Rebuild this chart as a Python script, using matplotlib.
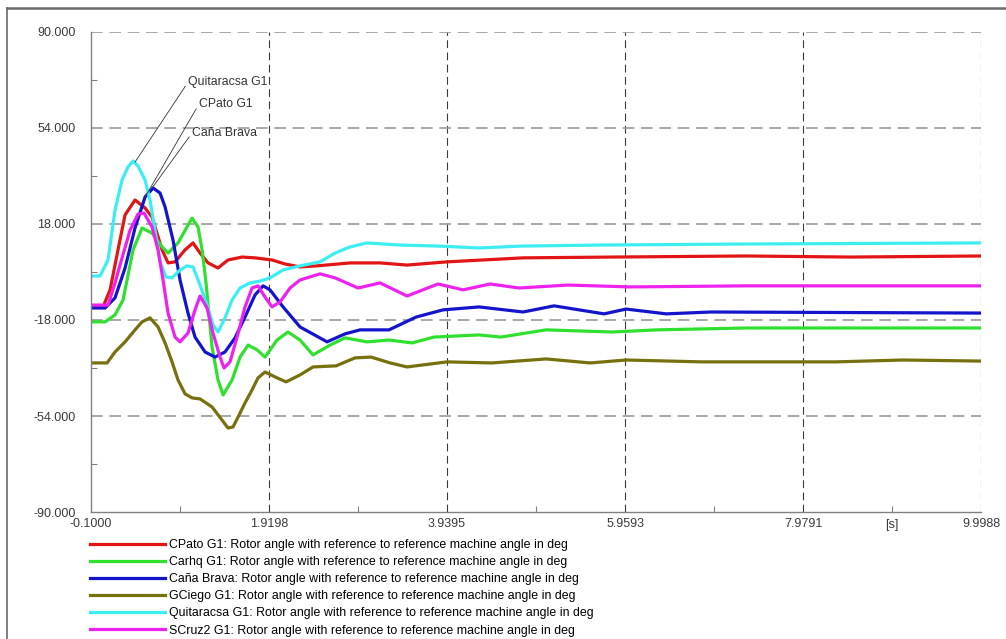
import numpy as np
import matplotlib
matplotlib.use("Agg")
import matplotlib.pyplot as plt
from matplotlib.lines import Line2D

plt.rcParams['font.family'] = ['Liberation Sans', 'DejaVu Sans']

# time in s, rotor angle in deg
t_cpato = [-0.1, 0.036, 0.116, 0.206, 0.286, 0.399, 0.513, 0.592, 0.706, 0.774, 0.853, 0.967,
           1.057, 1.137, 1.228, 1.341, 1.454, 1.613, 1.761, 1.954, 2.101, 2.271, 2.464, 2.839,
           3.179, 3.486, 3.940, 4.802, 5.812, 7.332, 8.512, 10.0]
y_cpato = [-13.1, -13.1, -6.7, 8.3, 21.4, 27.0, 24.0, 20.6, 8.3, 3.4, 3.8, 8.3,
           10.9, 7.1, 3.4, 1.5, 4.5, 5.6, 5.3, 4.5, 3.0, 1.9, 2.3, 3.4,
           3.4, 2.6, 3.8, 5.3, 5.6, 6.0, 5.6, 6.0]

t_carhq = [-0.1, 0.059, 0.172, 0.263, 0.320, 0.377, 0.479, 0.592, 0.706, 0.774, 0.887, 0.989,
           1.046, 1.114, 1.160, 1.205, 1.273, 1.341, 1.398, 1.500, 1.591, 1.682, 1.784, 1.874,
           2.011, 2.135, 2.271, 2.419, 2.612, 2.782, 3.032, 3.281, 3.542, 3.792, 4.303, 4.552,
           5.063, 5.812, 6.323, 7.332, 10.0]
y_carhq = [-18.7, -18.7, -16.1, -10.5, -1.1, 8.3, 16.5, 14.6, 9.4, 7.1, 10.9, 16.9,
           20.2, 16.9, 8.3, -4.1, -28.1, -40.5, -46.1, -40.5, -31.9, -27.4, -29.2, -31.9,
           -25.5, -22.5, -25.5, -31.1, -27.4, -24.7, -26.2, -25.5, -26.6, -24.4, -23.6, -24.4,
           -21.7, -22.5, -21.7, -21.0, -21.0]

t_brava = [-0.1, 0.059, 0.172, 0.286, 0.399, 0.513, 0.604, 0.683, 0.740, 0.830, 0.910, 1.000,
           1.080, 1.194, 1.307, 1.420, 1.534, 1.647, 1.761, 1.852, 1.931, 2.079, 2.271, 2.578,
           2.782, 2.952, 3.281, 3.588, 3.894, 4.303, 4.802, 5.154, 5.721, 5.971, 6.425, 6.935, 10.0]
y_brava = [-13.5, -13.5, -9.7, 1.5, 16.5, 28.1, 31.5, 29.6, 24.4, 12.0, -3.0, -15.4,
           -24.4, -30.0, -31.9, -30.0, -24.7, -16.9, -8.6, -5.2, -6.7, -13.1, -20.6, -26.2,
           -23.2, -21.7, -21.7, -16.9, -14.2, -13.1, -15.0, -12.7, -15.7, -13.9, -15.7, -15.0, -15.4]

t_gciego = [-0.1, 0.082, 0.172, 0.286, 0.399, 0.479, 0.569, 0.660, 0.740, 0.819, 0.887, 0.967,
            1.046, 1.137, 1.273, 1.386, 1.454, 1.511, 1.568, 1.647, 1.727, 1.795, 1.874, 2.011,
            2.113, 2.271, 2.419, 2.680, 2.896, 3.077, 3.293, 3.486, 3.940, 4.450, 5.063, 5.562,
            5.971, 6.833, 8.353, 9.113, 10.0]
y_gciego = [-34.1, -34.1, -30.0, -26.2, -21.7, -18.7, -17.2, -20.6, -26.6, -33.7, -40.5, -45.7,
            -47.2, -47.6, -50.6, -55.5, -58.5, -58.1, -54.4, -49.1, -44.2, -39.7, -37.5, -39.7,
            -41.2, -38.6, -35.6, -35.2, -32.2, -31.9, -34.1, -35.6, -33.7, -34.1, -32.6, -34.1,
            -33.0, -33.7, -33.7, -33.0, -33.4]

t_quita = [-0.1, 0.002, 0.093, 0.172, 0.252, 0.320, 0.377, 0.433, 0.513, 0.569, 0.626, 0.683,
           0.751, 0.819, 0.910, 0.989, 1.057, 1.137, 1.216, 1.284, 1.341, 1.420, 1.500, 1.591,
           1.704, 1.818, 1.931, 2.079, 2.271, 2.498, 2.669, 2.839, 3.032, 3.406, 3.860, 4.303,
           4.768, 5.676, 7.378, 10.0]
y_quita = [-1.5, -1.5, 4.5, 23.2, 34.5, 39.4, 41.6, 39.7, 34.5, 27.0, 15.7, 3.8,
           -1.9, -2.2, 0.75, 2.3, 1.9, -4.9, -12.4, -19.9, -22.5, -17.2, -10.5, -6.0,
           -4.1, -3.4, -2.2, 0.75, 2.3, 3.8, 7.1, 9.4, 10.9, 10.1, 9.7, 9.0,
           9.7, 10.1, 10.5, 10.9]

t_scruz = [-0.1, 0.093, 0.172, 0.252, 0.343, 0.433, 0.501, 0.592, 0.660, 0.717, 0.774, 0.853,
           0.910, 1.000, 1.080, 1.137, 1.216, 1.284, 1.364, 1.409, 1.477, 1.557, 1.647, 1.727,
           1.795, 1.874, 1.954, 2.045, 2.158, 2.271, 2.498, 2.669, 2.930, 3.179, 3.486, 3.837,
           4.121, 4.428, 4.757, 5.313, 6.016, 7.332, 10.0]
y_scruz = [-12.4, -12.4, -4.1, 5.3, 15.7, 21.7, 22.1, 16.9, 8.3, -3.0, -15.4, -24.4,
           -26.2, -22.9, -14.2, -9.0, -13.5, -22.9, -31.9, -36.0, -33.7, -24.4, -13.1, -6.0,
           -5.2, -9.4, -13.1, -11.2, -6.0, -3.0, -0.7, -2.2, -6.0, -4.1, -9.0, -4.5,
           -6.7, -4.5, -6.0, -4.9, -5.6, -5.2, -5.2]

series = [
    (t_cpato, y_cpato, '#e31414', "CPato G1: Rotor angle with reference to reference machine angle in deg"),
    (t_carhq, y_carhq, '#2fe02f', "Carhq G1: Rotor angle with reference to reference machine angle in deg"),
    (t_brava, y_brava, '#1414cc', "Caña Brava: Rotor angle with reference to reference machine angle in deg"),
    (t_gciego, y_gciego, '#76700f', "GCiego G1: Rotor angle with reference to reference machine angle in deg"),
    (t_quita, y_quita, '#3ceef2', "Quitaracsa G1: Rotor angle with reference to reference machine angle in deg"),
    (t_scruz, y_scruz, '#ee22ee', "SCruz2 G1: Rotor angle with reference to reference machine angle in deg"),
]

xmajor = [-0.1, 1.9198, 3.9395, 5.9593, 7.9791, 9.9988]
xlabels = ['-0.1000', '1.9198', '3.9395', '5.9593', '7.9791', '9.9988']
ymajor = [-90, -54, -18, 18, 54, 90]
ylabels = ['-90.000', '-54.000', '-18.000', '18.000', '54.000', '90.000']

fig = plt.figure(figsize=(10.06, 6.39), dpi=100)
ax = fig.add_axes([0.0905, 0.1987, 0.8847, 0.7513])

handles = []
for t, y, c, lab in series:
    ln, = ax.plot(t, y, color=c, lw=2.3, solid_joinstyle='round', label=lab)
    handles.append(ln)

ax.set_xlim(-0.1, 9.9988)
ax.set_ylim(-90, 90)

for xv in xmajor[1:]:
    ax.axvline(xv, color='#3a3a3a', lw=0.8, dashes=(7, 4), zorder=0.5)
for yv in ymajor[1:]:
    ax.axhline(yv, color='#9a9a9a', lw=1.2, dashes=(7, 4), zorder=0.5)

ax.set_xticks(xmajor)
ax.set_xticklabels(xlabels)
ax.set_yticks(ymajor)
ax.set_yticklabels(ylabels)
ax.set_xticks([(a + b) / 2 for a, b in zip(xmajor[:-1], xmajor[1:])], minor=True)
ax.set_yticks([-72, -36, 0, 36, 72], minor=True)
ax.tick_params(which='major', length=0, labelsize=9, labelcolor='#3a3a3a')
ax.tick_params(axis='y', which='major', pad=11)
ax.tick_params(axis='x', which='major', pad=4)
ax.tick_params(which='minor', direction='in', length=4, color='#808080', width=0.8)

ax.text(8.989, -0.015, '[s]', transform=ax.get_xaxis_transform(),
        ha='center', va='top', fontsize=9, color='#3a3a3a')

for s in ['top', 'right']:
    ax.spines[s].set_visible(False)
for s in ['left', 'bottom']:
    ax.spines[s].set_color('#808080')
    ax.spines[s].set_linewidth(1.0)

# labels with leader lines
ann = [('Quitaracsa G1', (0.399, 41.2), (1.001, 71.2)),
       ('CPato G1', (0.501, 27.4), (1.125, 63.0)),
       ('Caña Brava', (0.592, 31.5), (1.046, 52.1))]
for txt, xy, xyt in ann:
    ax.annotate(txt, xy=xy, xytext=xyt, fontsize=8.8, color='#333333',
                ha='left', va='center',
                arrowprops=dict(arrowstyle='-', color='#333333', lw=0.6,
                                shrinkA=0, shrinkB=0, relpos=(0, 0.5)))

fig.legend(handles=handles, loc='upper left', bbox_to_anchor=(0.0895, 0.1562),
           frameon=False, fontsize=8.9, handlelength=6.1, handletextpad=0.3,
           labelspacing=0.41, borderpad=0, borderaxespad=0)

# outer frame of the export window
fig.add_artist(Line2D([7 / 1006, 1.0], [1 - 8 / 639, 1 - 8 / 639], transform=fig.transFigure,
                      color='#6a6a6a', lw=1.8))
fig.add_artist(Line2D([7 / 1006, 7 / 1006], [0.0, 1 - 8 / 639], transform=fig.transFigure,
                      color='#6a6a6a', lw=1.2))

fig.savefig('out.png', dpi=100)
